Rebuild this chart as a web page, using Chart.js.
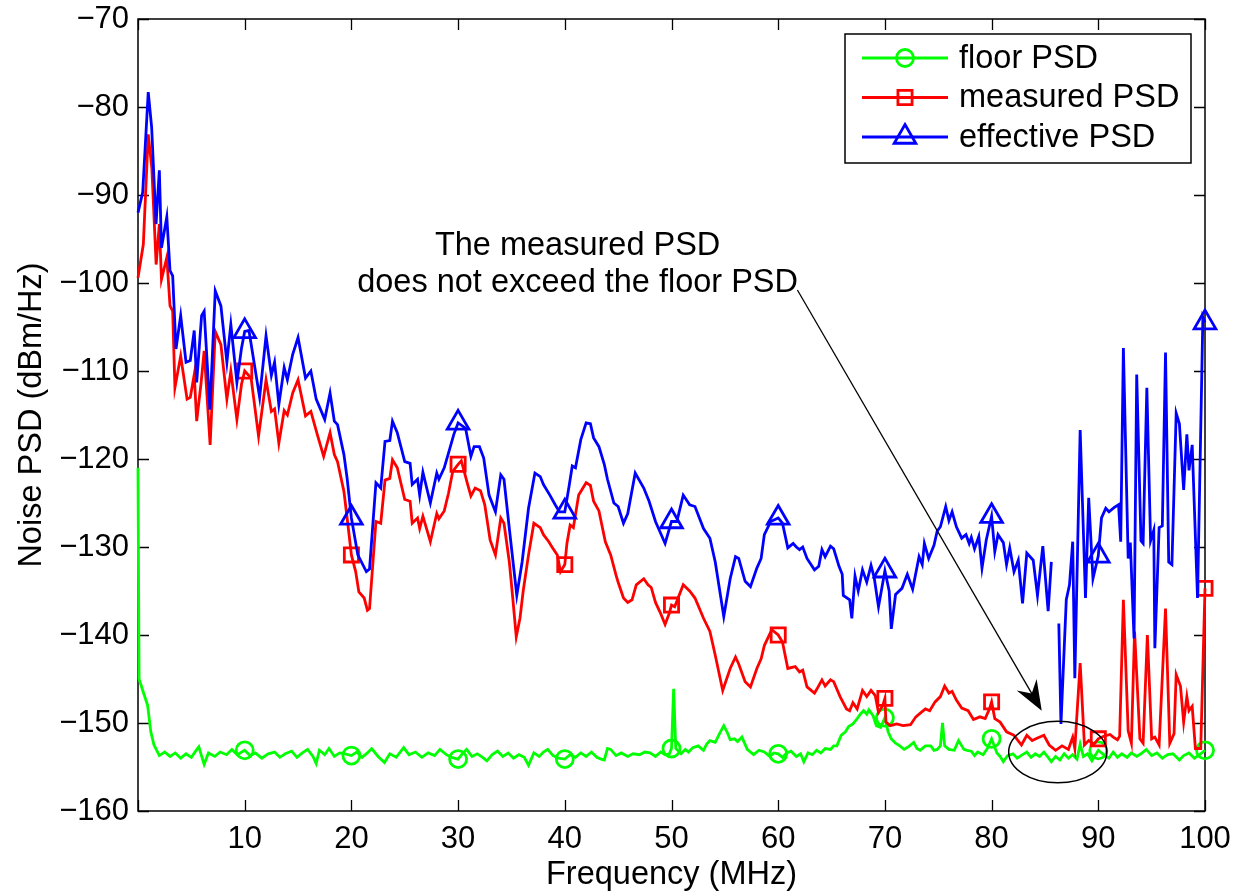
<!DOCTYPE html>
<html>
<head>
<meta charset="utf-8">
<title>Noise PSD</title>
<script src="https://cdn.jsdelivr.net/npm/chart.js@4.4.0/dist/chart.umd.min.js"></script>
<style>
  html, body { margin: 0; padding: 0; background: #fff; }
  #wrap { width: 1241px; height: 895px; }
</style>
</head>
<body>
<div id="wrap"><canvas id="psdChart" width="1241" height="895"></canvas></div>
<script>
// Noise PSD vs frequency — floor / measured / effective

const X_TICKS = [0, 10, 20, 30, 40, 50, 60, 70, 80, 90, 100];
const Y_TICKS = [-160, -150, -140, -130, -120, -110, -100, -90, -80, -70];
const MARKER_FREQS = [10, 20, 30, 40, 50, 60, 70, 80, 90, 100];
const SERIES_NAMES = ['floor PSD', 'measured PSD', 'effective PSD'];

const floorFreq = [0, 0.1, 0.5, 0.9, 1.2, 1.5, 2, 2.5, 3, 3.5, 4, 4.5, 5, 5.4, 5.7, 6.2, 6.6, 7.2, 7.7, 8.3, 8.8, 9.3,
  10, 10.5, 11, 11.6, 12.2, 12.8, 13.3, 13.8, 14.4, 14.9, 15.4, 15.9, 16.4, 16.7, 17, 17.5, 17.9, 18.4, 18.9, 19.4,
  20, 20.5, 21, 21.5, 21.9, 22.5, 23.1, 23.6, 24.2, 24.9, 25.4, 26, 26.6, 27.2, 27.8, 28.3, 28.9, 29.4,
  30, 30.4, 30.8, 31.3, 31.8, 32.3, 32.7, 33.2, 33.7, 34.2, 34.7, 35.2, 35.7, 36.2, 36.6, 37.1, 37.6, 38, 38.4, 38.9, 39.4,
  40, 40.5, 41, 41.5, 42, 42.5, 43, 43.4, 43.7, 44, 44.3, 44.8, 45.3, 45.9, 46.4, 47, 47.5, 48, 48.5, 49, 49.4, 49.8,
  50, 50.2, 50.4, 50.9, 51.3, 51.6, 52, 52.5, 53, 53.3, 53.6, 54.1, 54.5, 54.9, 55.2, 55.5, 55.9, 56.2, 56.6, 57.1, 57.7, 58.2, 58.7, 59.2, 59.6,
  60, 60.4, 60.8, 61.2, 61.7, 62.1, 62.4, 62.8, 63.2, 63.6, 64, 64.4, 64.9, 65.2, 65.5, 65.9, 66.3, 66.6, 67, 67.4, 67.7, 68, 68.3, 68.5, 68.9, 69.2, 69.6,
  70, 70.3, 70.6, 71, 71.4, 71.8, 72.2, 72.7, 73, 73.3, 73.8, 74.3, 74.6, 74.9, 75.2, 75.4, 75.6, 76, 76.5, 76.9, 77.4, 77.7, 78.1, 78.4, 78.7, 79.2, 79.6,
  80, 80.5, 80.8, 81.1, 81.5, 82, 82.4, 82.9, 83.3, 83.7, 84.1, 84.5, 84.9, 85.3, 85.6, 86, 86.4, 86.8, 87.2, 87.6, 88, 88.3, 88.6, 89, 89.4,
  90, 90.5, 91, 91.4, 91.8, 92.2, 92.7, 93.1, 93.6, 94, 94.5, 95, 95.5, 96, 96.5, 97, 97.6, 98, 98.5, 99, 99.5, 100];
const floorDb = [-121, -145, -146.5, -148, -151, -152.5, -153.7, -153.3, -153.8, -153.4, -154, -153.5, -153.9, -153.2, -152.7, -154.7, -153.4, -153.8, -153.3, -153.6, -153, -153.6,
  -153.1, -153.7, -153.4, -154, -153.5, -153.3, -153.9, -153.5, -153.2, -153.9, -153.4, -153, -153.8, -154.6, -153.1, -153.6, -152.9, -153.8, -153.4, -153.5,
  -153.7, -153.3, -153.9, -153.4, -152.9, -153.8, -154.5, -153.5, -153.9, -152.8, -153.6, -153.3, -153.9, -153.4, -153.7, -153, -153.6, -153.9,
  -154.1, -153.5, -153, -153.8, -153.5, -153.9, -154.3, -153.6, -153.2, -153.8, -153.4, -154, -153.6, -153.9, -154.8, -153.4, -153.8, -153.3, -153, -153.7, -154,
  -154.1, -153.6, -153.9, -153.4, -153.8, -153.3, -153.9, -154.1, -154.2, -152.9, -153, -153.7, -153.4, -153.8, -153.5, -153.6, -153.3, -153.4, -153.8, -153.3, -153.6, -153.5,
  -152.9, -146.1, -152.9, -153.5, -153, -153.3, -152.8, -152.6, -153.1, -152.4, -152, -152.2, -151.2, -150.3, -151, -151.9, -151.8, -152.1, -151.6, -153, -153.6, -153.1, -153.3, -153.8, -153.4,
  -153.5, -153.9, -153.4, -153.2, -153.8, -153.5, -154.4, -153.4, -153.6, -153.1, -153.4, -152.9, -153, -152.6, -152.6, -151.4, -151, -150.4, -150.1, -149.5, -149, -148.6, -149, -148.5, -149.2, -150.3, -150.5,
  -149.4, -151, -151.8, -152.3, -152.6, -153, -152.7, -152.2, -152.9, -153.1, -152.6, -152.6, -153.1, -153, -152.6, -150, -152.6, -153, -153.1, -152, -153, -153.1, -153.2, -153.7, -153.3, -153.6, -152.9,
  -151.8, -153.4, -153.8, -154.4, -153.7, -153.5, -154, -153.6, -153.3, -153.9, -153.5, -153.8, -153.3, -153.9, -154.4, -153.8, -154.2, -153.5, -154, -153.6, -154.1, -152.4, -153.8, -153.5, -154.3,
  -153.1, -153.6, -154, -153.3, -153.9, -153.5, -153.9, -153.4, -153.8, -153.5, -153, -153.7, -153.4, -154, -153.6, -153.5, -154.2, -153.7, -153.4, -154, -153.6, -153.1];

const measuredFreq = [0, 0.5, 0.96, 1.3, 1.7, 2, 2.2, 2.7, 3, 3.25, 3.46, 4, 4.6, 4.9, 5.27, 5.5, 5.9, 6.2, 6.76, 7.24, 7.77, 8.33, 8.7, 9.27, 9.7,
  10, 10.6, 11.3, 12, 12.5, 12.8, 13.2, 13.7, 14, 14.5, 15, 15.7, 16.2, 16.8, 17.4, 18, 18.4, 18.7, 19.3, 19.6,
  20, 20.4, 20.7, 21.2, 21.5, 21.7, 22.3, 22.75, 23.15, 23.6, 23.85, 24.3, 25, 25.5, 25.7, 26.2, 26.4, 26.7, 27.4, 28, 28.2, 28.7, 29.1, 29.5,
  30, 30.3, 30.9, 31.2, 31.6, 32.1, 32.5, 33, 33.5, 34, 34.3, 34.8, 35.1, 35.45, 35.8, 36.1, 36.6, 37.1, 37.7, 38, 38.5, 38.8, 39.3, 39.6,
  40, 40.2, 40.5, 40.8, 41.3, 42, 42.4, 42.7, 43.2, 43.8, 44.3, 44.8, 45, 45.5, 45.9, 46.3, 46.7, 47.4, 47.8, 48.1, 48.5, 49, 49.4, 49.8,
  50, 50.3, 51.1, 51.7, 52.2, 53, 53.6, 54.1, 54.8, 55.5, 56, 56.3, 56.9, 57.4, 58, 58.4, 58.7, 59.4,
  60, 60.4, 60.9, 61.6, 62, 62.3, 62.7, 63.4, 63.6, 64.1, 64.4, 64.9, 65.2, 65.8, 66.4, 66.7, 67, 67.4, 67.9, 68.3, 68.7, 69.1, 69.4, 69.8,
  70, 70.1, 70.5, 71.1, 71.7, 72.4, 72.9, 73.4, 73.8, 74.2, 74.7, 75.2, 75.6, 76, 76.3, 76.7, 77.2, 77.8, 78.3, 78.9, 79.4, 79.8,
  80, 80.3, 80.8, 81.4, 82.1, 82.8, 83.3, 83.8, 84.3, 84.9, 85.4, 86, 86.6, 87.2, 87.6, 87.8, 88.3, 88.7, 89.1, 89.6,
  90, 90.5, 91.1, 91.4, 91.8, 92, 92.35, 92.8, 93.1, 93.4, 93.9, 94.2, 94.6, 95, 95.3, 95.7, 96.3, 96.7, 97.1, 97.3, 97.7, 98, 98.3, 98.5, 98.8, 99.1, 99.6, 100];
const measuredDb = [-99.4, -95.6, -83.1, -87, -97.9, -93.3, -99.6, -97.1, -102.6, -103.2, -111.9, -108.3, -113.2, -113, -110.4, -115.7, -111.5, -107.7, -118.4, -105.5, -107, -113.2, -110, -115.5, -111.5,
  -110, -110.8, -117.4, -111, -114.6, -114.3, -118.2, -114.5, -115, -112.5, -111, -115.1, -114.6, -117.2, -119.7, -117, -119.5, -120.3, -123.7, -126.7,
  -130.9, -132.8, -135.1, -135.8, -137.2, -137, -127.1, -127.3, -122.4, -122.2, -120.1, -121, -124.6, -124.8, -127.3, -126.7, -127.9, -126.5, -129.4, -126.2, -126.8, -125.9, -123.9, -121.4,
  -120.6, -120.2, -122.9, -124.2, -123.3, -123.6, -125.2, -129.2, -130.9, -126.7, -127.3, -131.7, -135.5, -140.2, -138.1, -135, -130.9, -127.3, -127.8, -128.6, -129.4, -130, -130.9, -132.8,
  -132, -129.6, -127.5, -127.8, -124.1, -122.7, -123, -124.8, -125.9, -129.4, -130.9, -133.2, -134, -135.8, -136.3, -136, -134.3, -133.6, -134.3, -134.6, -136.3, -137.6, -138.8, -137.5,
  -136.6, -136.8, -134.3, -135, -135.8, -138.1, -139.6, -142.3, -146.3, -143.8, -142.5, -143.3, -145.3, -145.9, -143.8, -142.7, -141.2, -139.4,
  -140, -140.8, -143.8, -143.6, -144.2, -144, -145.9, -146.6, -146.2, -145.1, -145.8, -145.1, -145.3, -147, -148.4, -148.6, -147.7, -148.4, -146.3, -147, -146.3, -146.9, -148.8, -148,
  -147.2, -149.9, -150.3, -150.1, -150.3, -150.2, -149.3, -148.8, -148.4, -148.6, -147.6, -147, -145.8, -146.6, -146.4, -147.4, -148.3, -148.6, -149.6, -149.3, -149.5, -148.4,
  -147.6, -149.5, -149.9, -151, -151.4, -152.5, -151.4, -152, -151.7, -151.4, -152.5, -153.1, -152.6, -153, -151.6, -152.9, -143.2, -152.5, -152, -152.4,
  -151.8, -151.5, -151.3, -151.6, -151.9, -151.5, -136, -150.9, -152.3, -139.6, -151.8, -152.3, -140, -151.8, -151.6, -152.5, -137, -152.3, -151.2, -144.5, -145.8, -149.9, -147, -148.6, -148.1, -152.9, -152.9, -134.7];

const effectiveFreq = [0, 0.44, 0.96, 1.28, 1.69, 2, 2.2, 2.7, 3, 3.25, 3.56, 4, 4.5, 4.9, 5.27, 5.5, 5.96, 6.2, 6.74, 7.24, 7.77, 8.33, 8.7, 9.27, 9.7,
  10, 10.4, 11.4, 12, 12.5, 12.8, 13.2, 13.7, 14, 14.5, 15, 15.7, 16.2, 16.7, 17.5, 18, 18.4, 18.7, 19.3, 19.6,
  20, 20.6, 21.4, 21.7, 22.3, 22.75, 23.15, 23.6, 23.85, 24.3, 25, 25.5, 25.7, 26.2, 26.4, 26.7, 27.4, 28, 28.2, 28.7, 29.2, 29.6,
  30, 30.7, 31.2, 31.5, 32, 32.4, 32.9, 33.5, 34, 34.3, 34.8, 35.5, 36, 36.6, 37.2, 37.7, 38, 38.6, 39.1, 39.5,
  40, 40.4, 40.7, 41, 41.5, 42, 42.4, 42.7, 43.2, 43.7, 44, 44.6, 45, 45.5, 45.9, 46.6, 47.4, 47.9, 48.5, 49, 49.4,
  50, 50.5, 51.1, 51.7, 52.2, 53, 53.6, 54.1, 54.9, 55.5, 56, 56.3, 56.9, 57.4, 58, 58.4, 58.7, 59.3,
  60, 60.4, 60.9, 61.4, 61.7, 62, 62.3, 62.7, 63.4, 63.8, 64.1, 64.4, 64.9, 65.2, 65.7, 66, 66.1, 66.7, 66.9, 67.2, 67.5, 67.9, 68.3, 68.7, 69, 69.4,
  70, 70.4, 70.6, 71, 71.6, 72.1, 72.6, 73.2, 73.5, 73.7, 74.1, 74.6, 74.9, 75.2, 75.7, 76, 76.3, 76.7, 77.2, 77.6, 77.9, 78.1, 78.4, 78.8, 79.1, 79.5,
  80, 80.3, 80.6, 81.1, 81.4, 81.7, 82.1, 82.5, 82.9, 83.3, 83.9, 84.3, 84.8, 85.3, 85.6, 85.9, 86.3, 86.5, 87, 87.3, 87.6, 87.8, 88.3, 88.8, 89.1, 89.5,
  90, 90.3, 90.7, 91, 91.5, 91.9, 92.1, 92.35, 92.8, 93, 93.35, 93.6, 94, 94.2, 94.55, 94.9, 95.2, 95.3, 95.7, 96, 96.3, 96.6, 96.9, 97.3, 97.6, 98, 98.3, 98.5, 98.8, 99.3, 99.8, 100];
const effectiveDb = [-92, -89.7, -78.3, -82.3, -93.3, -87.2, -96, -92.5, -98.6, -99.2, -107.5, -103.7, -109, -108.8, -105.4, -111.3, -103.7, -103.2, -114.4, -100.9, -102.6, -109, -104.7, -111.3, -107.4,
  -105.5, -105.4, -113, -106, -110.5, -109, -113.8, -109.6, -111, -108.1, -106.2, -110.8, -110, -113.2, -115.5, -112.5, -115.7, -116.1, -119.5, -122.2,
  -126.7, -130.9, -132.8, -132.5, -122.7, -123.3, -118, -117.9, -115.7, -117, -120.3, -120.5, -122.9, -122.3, -124.1, -121.5, -125, -121.6, -122.3, -121, -118.9, -117.2,
  -115.9, -116.5, -119.7, -118.6, -118.6, -119.9, -124.1, -126, -121.8, -122.3, -127.9, -135.5, -131.7, -125.6, -121.6, -122, -122.9, -124.1, -125.2, -126,
  -126, -123.1, -120.8, -121, -117.8, -115.9, -116, -117.6, -118.6, -120.6, -122.3, -125, -125.4, -127.3, -126.2, -121.6, -123.3, -124.8, -127.1, -128.5, -129.6,
  -127.1, -127.1, -124.1, -125.2, -125.4, -127.9, -129, -131.7, -137.9, -133.6, -131.1, -131.3, -133.9, -134.5, -132.4, -131.3, -128.6, -127.1,
  -126.7, -127.3, -130.1, -129.6, -130, -130.3, -130, -131.3, -132.6, -132.2, -130.3, -131.1, -129.9, -130.2, -132.2, -133.1, -135.5, -136, -138.1, -133.3, -135, -132.6, -134, -132.1, -133.5, -136.8,
  -132.7, -135, -139.3, -135.4, -134.7, -133.1, -134.8, -131.1, -132, -129.6, -131.3, -129.8, -128.2, -127.7, -125.4, -127, -126, -127.7, -129, -128.6, -129.6, -128.9, -130.2, -128.8, -132.4, -129.2,
  -126.5, -130.5, -128.6, -129.5, -132, -130.1, -132.8, -131.5, -136.4, -130.7, -131.5, -135.5, -129.9, -137.3, -131.7, null, -138.7, -150.1, -136, -134.3, -129.4, -144.9, -116.7, -135.8, -124.4, -133.6,
  -131, -126.7, -125.6, -126, -125.5, -125.2, -129.4, -107.4, -131.3, -129.5, -140.4, -110.4, -129.3, -129.6, -111.9, -129.3, -128.1, -141.5, -127.8, -127.6, -107.9, -131.7, -132, -114.8, -116, -123.5, -117.2, -121.3, -118.4, -135.8, -103.9, -104.5];

// annotation, in data units
const NOTE_LINES = ['The measured PSD', 'does not exceed the floor PSD'];
const NOTE_POS = { x: 41.2, y: [-96.8, -101.0] };
const ARROW_FROM = { x: 61.8, y: -100.8 };
const ARROW_TO = { x: 84.7, y: -148.6 };
const ELLIPSE = { x: 86.2, y: -153.3, rx: 4.6, ry: 3.5 };

const FONT = '"Liberation Sans", Arial, Helvetica, sans-serif';
const TEXT_SIZE = 32.5;
const TICK_SIZE = 31;
const COLORS = ['#00ff00', '#ff0000', '#0000ff'];
const STYLES = ['circle', 'rect', 'triangle'];
const RADII = [8.5, 10, 12.5];

const toPoints = (fs, ys) => fs.map((f, i) => ({ x: f, y: ys[i] }));

function drawMarker(ctx, style, x, y, r){
  ctx.beginPath();
  if (style === 'circle') ctx.arc(x, y, r, 0, Math.PI*2);
  else if (style === 'rect'){ const s = r*Math.SQRT1_2; ctx.rect(x-s, y-s, 2*s, 2*s); }
  else {
    for (let k=0;k<3;k++){ const a = k*2*Math.PI/3; const px = x + Math.sin(a)*r, py = y - Math.cos(a)*r; k ? ctx.lineTo(px,py) : ctx.moveTo(px,py); }
    ctx.closePath();
  }
  ctx.stroke();
}

// axes box with MATLAB style inward ticks
const boxPlugin = {
  id: 'matlabBox',
  beforeDatasetsDraw(chart){
    const { ctx, chartArea: a, scales } = chart;
    ctx.save();
    ctx.strokeStyle = '#000'; ctx.lineWidth = 1.5;
    ctx.strokeRect(a.left, a.top, a.right-a.left, a.bottom-a.top);
    ctx.lineWidth = 1.3;
    ctx.beginPath();
    X_TICKS.forEach(v=>{
      const px = Math.round(scales.x.getPixelForValue(v)) + 0.5;
      ctx.moveTo(px, a.bottom); ctx.lineTo(px, a.bottom-11);
      ctx.moveTo(px, a.top); ctx.lineTo(px, a.top+11);
    });
    Y_TICKS.forEach(v=>{
      const py = Math.round(scales.y.getPixelForValue(v)) + 0.5;
      ctx.moveTo(a.left, py); ctx.lineTo(a.left+11, py);
      ctx.moveTo(a.right, py); ctx.lineTo(a.right-11, py);
    });
    ctx.stroke();
    ctx.restore();
  }
};

// legend box + annotation (text, arrow, ellipse)
const overlayPlugin = {
  id: 'overlay',
  afterDraw(chart){
    const { ctx, chartArea: a, scales: { x, y } } = chart;
    ctx.save();
    // legend
    const lw = 346, lh = 129, lx = a.right - 14 - lw, ly = a.top + 15;
    ctx.fillStyle = '#fff'; ctx.fillRect(lx, ly, lw, lh);
    ctx.strokeStyle = '#000'; ctx.lineWidth = 1.5; ctx.strokeRect(lx, ly, lw, lh);
    ctx.font = TEXT_SIZE + 'px ' + FONT; ctx.textAlign = 'left'; ctx.textBaseline = 'middle';
    SERIES_NAMES.forEach((name, i)=>{
      const cy = ly + 24 + i*39.5;
      ctx.strokeStyle = COLORS[i]; ctx.lineWidth = 2.8;
      ctx.beginPath(); ctx.moveTo(lx+17, cy); ctx.lineTo(lx+103, cy); ctx.stroke();
      drawMarker(ctx, STYLES[i], lx+60, cy, RADII[i]);
      ctx.fillStyle = '#000'; ctx.fillText(name, lx+114, cy+1);
    });
    // note text
    ctx.textAlign = 'center'; ctx.textBaseline = 'alphabetic'; ctx.fillStyle = '#000';
    NOTE_LINES.forEach((t, i)=> ctx.fillText(t, x.getPixelForValue(NOTE_POS.x), y.getPixelForValue(NOTE_POS.y[i])));
    // arrow
    const x0 = x.getPixelForValue(ARROW_FROM.x), y0 = y.getPixelForValue(ARROW_FROM.y);
    const x1 = x.getPixelForValue(ARROW_TO.x), y1 = y.getPixelForValue(ARROW_TO.y);
    const len = Math.hypot(x1-x0, y1-y0), ux = (x1-x0)/len, uy = (y1-y0)/len, nx = -uy, ny = ux;
    ctx.strokeStyle = '#000'; ctx.lineWidth = 1.3;
    ctx.beginPath(); ctx.moveTo(x0, y0); ctx.lineTo(x1 - ux*18, y1 - uy*18); ctx.stroke();
    ctx.beginPath();
    ctx.moveTo(x1, y1);
    ctx.lineTo(x1 - ux*30 + nx*11.5, y1 - uy*30 + ny*11.5);
    ctx.lineTo(x1 - ux*20, y1 - uy*20);
    ctx.lineTo(x1 - ux*30 - nx*11.5, y1 - uy*30 - ny*11.5);
    ctx.closePath(); ctx.fill();
    // ellipse
    const ex = x.getPixelForValue(ELLIPSE.x), ey = y.getPixelForValue(ELLIPSE.y);
    const erx = Math.abs(x.getPixelForValue(ELLIPSE.x + ELLIPSE.rx) - ex), ery = Math.abs(y.getPixelForValue(ELLIPSE.y + ELLIPSE.ry) - ey);
    ctx.lineWidth = 1.5;
    ctx.beginPath(); ctx.ellipse(ex, ey, erx, ery, 0, 0, Math.PI*2); ctx.stroke();
    ctx.restore();
  }
};

const series = [toPoints(floorFreq, floorDb), toPoints(measuredFreq, measuredDb), toPoints(effectiveFreq, effectiveDb)];

new Chart(document.getElementById('psdChart'), {
  type: 'line',
  data: {
    datasets: series.map((pts, i)=>({
      label: SERIES_NAMES[i],
      data: pts,
      order: 3 - i,
      borderColor: COLORS[i],
      borderWidth: 2.8,
      tension: 0,
      spanGaps: false,
      clip: false,
      pointStyle: STYLES[i],
      pointRadius: c => (c.raw && MARKER_FREQS.includes(c.raw.x)) ? RADII[i] : 0,
      pointBorderWidth: 2.8,
      pointBorderColor: COLORS[i],
      pointBackgroundColor: 'rgba(0,0,0,0)'
    }))
  },
  options: {
    responsive: false,
    animation: false,
    devicePixelRatio: 1,
    layout: { padding: { top: 19, right: 36, left: 0, bottom: 0 } },
    plugins: { legend: { display: false }, tooltip: { enabled: false } },
    scales: {
      x: {
        type: 'linear', min: 0, max: 100,
        afterFit: s => { s.height = 84; s.paddingLeft = 0; s.paddingRight = 0; },
        afterBuildTicks: s => { s.ticks = X_TICKS.map(v=>({ value: v })); },
        grid: { display: false, drawTicks: false },
        border: { display: false },
        ticks: { autoSkip: false, maxRotation: 0, padding: 10, color: '#000', font: { family: FONT, size: TICK_SIZE },
          callback: v => v === 0 ? '' : String(v) },
        title: { display: true, text: 'Frequency (MHz)', color: '#000', font: { family: FONT, size: TEXT_SIZE }, padding: { top: 0, bottom: 0 } }
      },
      y: {
        type: 'linear', min: -160, max: -70,
        afterFit: s => { s.width = 138; s.paddingTop = 0; s.paddingBottom = 0; },
        afterBuildTicks: s => { s.ticks = Y_TICKS.map(v=>({ value: v })); },
        grid: { display: false, drawTicks: false },
        border: { display: false },
        ticks: { autoSkip: false, padding: 9, color: '#000', font: { family: FONT, size: TICK_SIZE },
          callback: v => String(v).replace('-', '\u2212') },
        title: { display: true, text: 'Noise PSD (dBm/Hz)', color: '#000', font: { family: FONT, size: TEXT_SIZE }, padding: { top: 13, bottom: 0 } }
      }
    }
  },
  plugins: [boxPlugin, overlayPlugin]
});
</script>
</body>
</html>
